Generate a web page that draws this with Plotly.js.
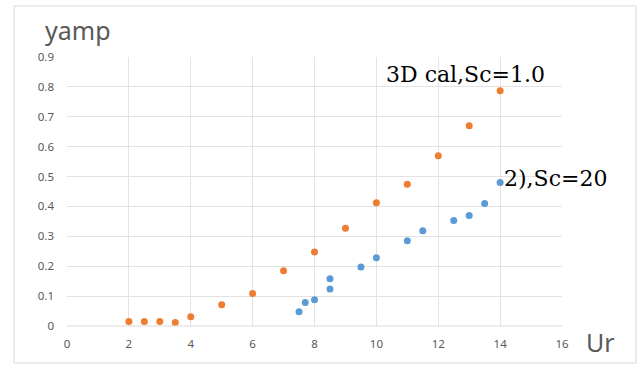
<!DOCTYPE html>
<html>
<head>
<meta charset="utf-8">
<script src="https://cdn.plot.ly/plotly-3.0.1.min.js"></script>
<style>html,body{margin:0;padding:0;background:#fff;}#chart{width:643px;height:365px;}</style>
</head>
<body>
<div id="chart"></div>
<script>
const calUr = [2, 2.5, 3, 3.5, 4, 5, 6, 7, 8, 9, 10, 11, 12, 13, 14];
const calAmp = [0.015, 0.015, 0.015, 0.012, 0.031, 0.071, 0.109, 0.185, 0.248, 0.327, 0.412, 0.474, 0.570, 0.670, 0.787];
const expUr = [7.5, 7.7, 8, 8.5, 8.5, 9.5, 10, 11, 11.5, 12.5, 13, 13.5, 14];
const expAmp = [0.048, 0.079, 0.088, 0.158, 0.124, 0.197, 0.228, 0.285, 0.319, 0.353, 0.370, 0.410, 0.480];
const xTicks = [0, 2, 4, 6, 8, 10, 12, 14, 16];
const yTicks = [0, 0.1, 0.2, 0.3, 0.4, 0.5, 0.6, 0.7, 0.8, 0.9];
const yTickText = ['0', '0.1', '0.2', '0.3', '0.4', '0.5', '0.6', '0.7', '0.8', '0.9'];

const traces = [
  {x: expUr, y: expAmp, mode: 'markers', type: 'scatter', name: '2),Sc=20',
   marker: {color: '#5B9BD5', size: 7}},
  {x: calUr, y: calAmp, mode: 'markers', type: 'scatter', name: '3D cal,Sc=1.0',
   marker: {color: '#ED7D31', size: 7}}
];
const tickFont = {family: 'Noto Sans, sans-serif', size: 11.5, color: '#595959'};
const layout = {
  width: 643, height: 365,
  margin: {l: 67, r: 81, t: 57, b: 39},
  paper_bgcolor: '#fff', plot_bgcolor: '#fff',
  showlegend: false,
  xaxis: {range: [0, 16], tickvals: xTicks, ticktext: xTicks.map(String), showgrid: true, gridcolor: '#e3e3e3',
    zeroline: false, showline: false, tickfont: tickFont, ticks: '', ticklabelstandoff: 9, fixedrange: true},
  yaxis: {range: [0, 0.9], tickvals: yTicks, ticktext: yTickText, showgrid: true, gridcolor: '#e3e3e3',
    zeroline: false, showline: false, tickfont: tickFont, ticks: '', ticklabelstandoff: 12},
  shapes: [
    {type: 'rect', xref: 'paper', yref: 'paper', x0: -0.107, x1: 1.1495, y0: -0.1375, y1: 1.19,
     line: {color: '#d9d9d9', width: 1}, fillcolor: 'rgba(0,0,0,0)', layer: 'below'},
    {type: 'line', xref: 'paper', yref: 'paper', x0: 0, x1: 1, y0: 0, y1: 0, line: {color: '#d9d9d9', width: 1}}
  ],
  annotations: [
    {text: 'yamp', xref: 'paper', yref: 'paper', x: -0.048, y: 1.1, xanchor: 'left', yanchor: 'middle',
     showarrow: false, font: {family: 'Noto Sans, sans-serif', size: 25, color: '#595959'}},
    {text: 'Ur', xref: 'paper', yref: 'paper', x: 1.045, y: -0.06, xanchor: 'left', yanchor: 'middle',
     showarrow: false, font: {family: 'Noto Sans, sans-serif', size: 25, color: '#595959'}},
    {text: '3D cal,Sc=1.0', xref: 'x', yref: 'y', x: 10.25, y: 0.843, xanchor: 'left', yanchor: 'middle',
     showarrow: false, font: {family: 'DejaVu Serif, serif', size: 22, color: '#000'}},
    {text: '2),Sc=20', xref: 'x', yref: 'y', x: 14.06, y: 0.495, xanchor: 'left', yanchor: 'middle',
     showarrow: false, font: {family: 'DejaVu Serif, serif', size: 22, color: '#000'}}
  ]
};
Plotly.newPlot('chart', traces, layout, {displayModeBar: false, staticPlot: true});
</script>
</body>
</html>
